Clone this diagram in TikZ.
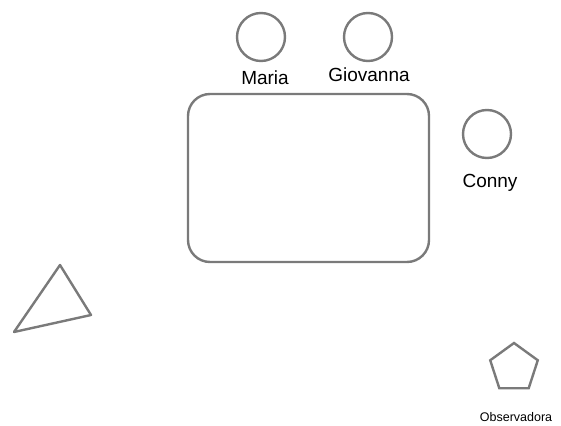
\documentclass[tikz,border=0pt]{standalone}
\usepackage{fontspec}
\setmainfont{Liberation Sans}
\usepackage{xcolor}
\usepackage{tikz}
\usetikzlibrary{shapes.geometric, positioning}

\definecolor{seatgray}{RGB}{122,122,122}

\begin{document}
\begin{tikzpicture}[
    x=1pt, y=-1pt,
    person/.style={circle, minimum size=48pt, inner sep=0pt, draw=seatgray, line width=2.4pt},
    tablebox/.style={rectangle, rounded corners=22pt, minimum width=241pt, minimum height=168pt, draw=seatgray, line width=2.4pt},
    observer/.style={regular polygon, regular polygon sides=5, minimum size=50pt, inner sep=0pt, draw=seatgray, line width=2.4pt},
    personlbl/.style={inner sep=0pt, font=\fontsize{19}{19}\selectfont},
    smalllbl/.style={inner sep=0pt, font=\fontsize{12.5}{12.5}\selectfont}
]
\useasboundingbox (0,0) rectangle (561,425);

\node (table) [tablebox] at (308.5,178) {};

\node (maria) [person] at (261,37) {};
\node (giovanna) [person] at (368,37) {};
\node (conny) [person] at (487,134) {};

\node (marialbl) [personlbl, below=8pt of maria, xshift=4pt] {Maria};
\node (giovannalbl) [personlbl, below=5pt of giovanna, xshift=1pt] {Giovanna};
\node (connylbl) [personlbl, below=15pt of conny, xshift=3pt] {Conny};

% triangle on the left
\coordinate (tritop) at (60,265);
\coordinate (trileft) at (14,332);
\coordinate (triright) at (91,315);
\draw [draw=seatgray, line width=2.4pt, line join=round] (tritop) -- (triright) -- (trileft) -- cycle;

\node (obs) [observer] at (514,368) {};
\node (obslbl) [smalllbl, below=23pt of obs, xshift=2pt] {Observadora};

\end{tikzpicture}
\end{document}
